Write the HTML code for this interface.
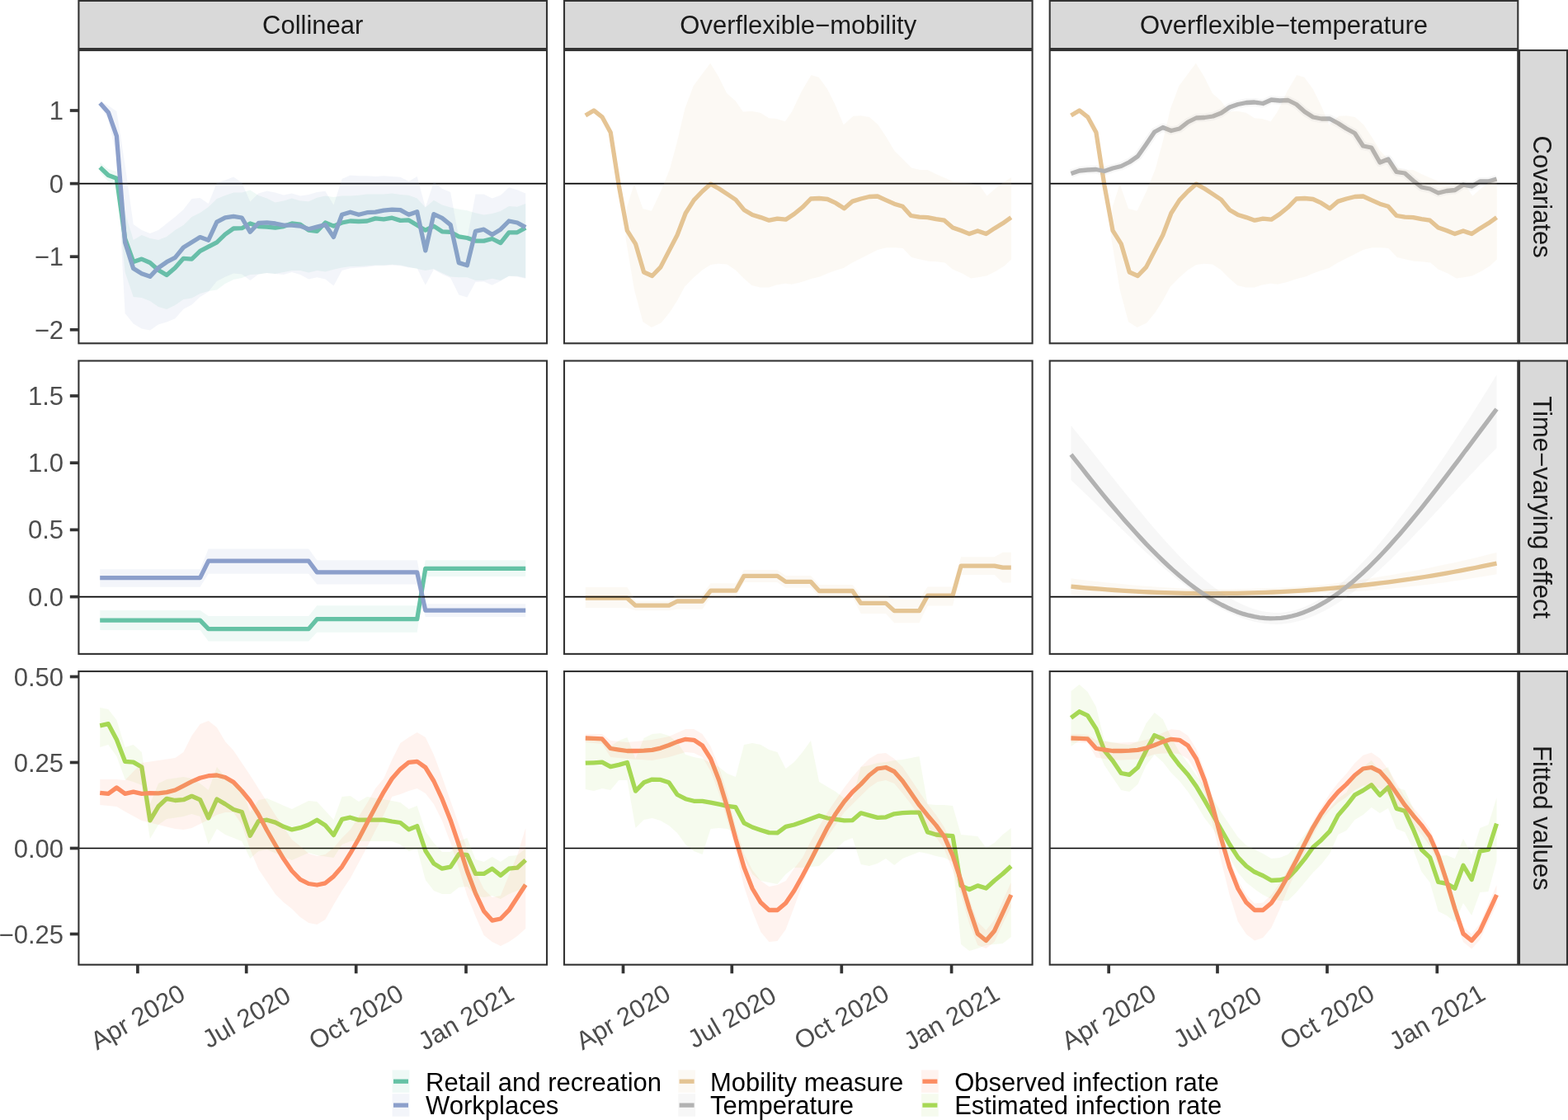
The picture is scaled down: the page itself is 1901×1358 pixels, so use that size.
<!DOCTYPE html><html><head><meta charset="utf-8"><style>html,body{margin:0;padding:0;background:#fff;}svg{display:block;}text{font-family:"Liberation Sans",Arial,sans-serif;}</style></head><body>
<svg width="1901" height="1358" viewBox="0 0 1901 1358">
<rect x="0" y="0" width="1901" height="1358" fill="#ffffff"/>
<defs>
<clipPath id="cp00"><rect x="95.4" y="61" width="567.6" height="355.3"/></clipPath>
<clipPath id="cp01"><rect x="684" y="61" width="567.6" height="355.3"/></clipPath>
<clipPath id="cp02"><rect x="1272.7" y="61" width="567.6" height="355.3"/></clipPath>
<clipPath id="cp10"><rect x="95.4" y="437.5" width="567.6" height="355.4"/></clipPath>
<clipPath id="cp11"><rect x="684" y="437.5" width="567.6" height="355.4"/></clipPath>
<clipPath id="cp12"><rect x="1272.7" y="437.5" width="567.6" height="355.4"/></clipPath>
<clipPath id="cp20"><rect x="95.4" y="814" width="567.6" height="355.7"/></clipPath>
<clipPath id="cp21"><rect x="684" y="814" width="567.6" height="355.7"/></clipPath>
<clipPath id="cp22"><rect x="1272.7" y="814" width="567.6" height="355.7"/></clipPath>
</defs>
<g clip-path="url(#cp00)">
<polyline points="121.2,202.8 131.3,212.5 141.4,216.3 151.6,289.4 161.7,317.5 171.8,314.1 181.9,318.5 192,327.4 202.1,333.6 212.3,324.7 222.4,313.3 232.5,314.1 242.6,304.4 252.7,299.1 262.9,293.8 273,284.1 283.1,277 293.2,276.7 303.3,271 313.4,274.6 323.6,275.1 333.7,276.2 343.8,274.6 353.9,271 364,272.1 374.2,279.2 384.3,280.3 394.4,270 404.5,274.1 414.6,270 424.7,268 434.9,268.5 445,268 455.1,264.9 465.2,265.9 475.3,264.2 485.4,267.4 495.6,266.9 505.7,273.1 515.8,279.2 525.9,274.1 536,280.8 546.2,281.3 556.3,286.9 566.4,288.5 576.5,292.1 586.6,292.1 596.7,289.5 606.9,294.6 617,281.8 627.1,281.8 637.2,276.2" fill="none" stroke="#66C2A5" stroke-width="5.3" stroke-linejoin="round" stroke-linecap="butt"/>
<polyline points="121.2,125 131.3,136.2 141.4,164.8 151.6,294 161.7,325.6 171.8,331.8 181.9,335.3 192,324.7 202.1,317.7 212.3,312.4 222.4,300 232.5,293.8 242.6,287.6 252.7,291.2 262.9,269.1 273,263.8 283.1,262.4 293.2,264 303.3,281.3 313.4,270.5 323.6,269.8 333.7,271 343.8,273.1 353.9,273.1 364,274.1 374.2,277.7 384.3,275.1 394.4,272.6 404.5,287.4 414.6,260.3 424.7,257.2 434.9,260.3 445,257.7 455.1,257.2 465.2,255.1 475.3,254.1 485.4,254.6 495.6,260.3 505.7,256.7 515.8,303.9 525.9,259.7 536,264.4 546.2,272.6 556.3,318.6 566.4,321.7 576.5,280.3 586.6,278.2 596.7,284.4 606.9,278.2 617,268 627.1,270 637.2,275.6" fill="none" stroke="#8DA0CB" stroke-width="5.3" stroke-linejoin="round" stroke-linecap="butt"/>
<line x1="95.4" x2="663" y1="222.6" y2="222.6" stroke="#000" stroke-width="1.6"/>
<polygon points="121.2,197 131.3,205 141.4,208 151.6,258 161.7,291 171.8,285 181.9,289 192,291 202.1,287 212.3,279 222.4,273 232.5,263 242.6,258 252.7,251 262.9,241 273,237 283.1,233.5 293.2,233.5 303.3,230.5 313.4,237 323.6,240.4 333.7,245.4 343.8,243.4 353.9,240.4 364,243.4 374.2,244.2 384.3,239.8 394.4,237.6 404.5,239 414.6,237.6 424.7,237.6 434.9,236.8 445,235.4 455.1,235.4 465.2,235.4 475.3,234.6 485.4,236.1 495.6,236.8 505.7,240.5 515.8,251.6 525.9,242.7 536,248.6 546.2,251.6 556.3,253.8 566.4,255.2 576.5,258.2 586.6,260.4 596.7,258.9 606.9,256 617,250.1 627.1,250.8 637.2,247.1 637.2,337 627.1,334.8 617,334.8 606.9,339.9 596.7,337.7 586.6,339.9 576.5,339.9 566.4,336.3 556.3,336.3 546.2,335.5 536,331.1 525.9,325.9 515.8,328.1 505.7,325.9 495.6,323.7 485.4,321.5 475.3,320.8 465.2,321.5 455.1,321.5 445,322.3 434.9,323 424.7,323 414.6,324.5 404.5,326.7 394.4,329.6 384.3,328.1 374.2,330.4 364,328 353.9,328 343.8,330 333.7,332 323.6,331 313.4,332.6 303.3,333 293.2,337 283.1,339 273,344 262.9,351.6 252.7,353 242.6,356 232.5,361.5 222.4,363 212.3,370 202.1,375 192,372 181.9,365 171.8,361 161.7,360 151.6,330 141.4,226 131.3,220 121.2,209" fill="#66C2A5" fill-opacity="0.1" stroke="none"/>
<polygon points="121.2,122 131.3,128 141.4,135 151.6,200 161.7,272 171.8,279 181.9,283 192,279 202.1,271 212.3,263 222.4,254 232.5,241 242.6,240 252.7,247 262.9,221.5 273,218.5 283.1,214.6 293.2,221.5 303.3,244.4 313.4,234.5 323.6,231.5 333.7,233.5 343.8,236.4 353.9,234.5 364,237.4 374.2,236.1 384.3,233.1 394.4,231.7 404.5,248.6 414.6,216.9 424.7,212.5 434.9,213.3 445,213.3 455.1,214 465.2,213.3 475.3,214 485.4,214.7 495.6,219.9 505.7,214 515.8,251.6 525.9,220.6 536,228.7 546.2,233.1 556.3,288.4 566.4,288.4 576.5,235.4 586.6,235.4 596.7,240.5 606.9,236.8 617,227.2 627.1,230.2 637.2,234.6 637.2,337.7 627.1,335.5 617,334.8 606.9,340.7 596.7,345.8 586.6,341.4 576.5,342.1 566.4,360.6 556.3,357.6 546.2,337 536,332.6 525.9,326.7 515.8,345.8 505.7,325.2 495.6,324.5 485.4,322.3 475.3,321.5 465.2,322.3 455.1,322.3 445,323.7 434.9,324.5 424.7,325.2 414.6,328.1 404.5,346.6 394.4,338.5 384.3,336.3 374.2,338.5 364,333 353.9,330 343.8,333 333.7,332 323.6,331 313.4,332.6 303.3,340 293.2,332.6 283.1,331.6 273,335.8 262.9,341 252.7,353.7 242.6,360 232.5,369.4 222.4,374.7 212.3,386.3 202.1,390.5 192,393.6 181.9,400.5 171.8,398.4 161.7,392.6 151.6,380 141.4,190 131.3,145 121.2,128" fill="#8DA0CB" fill-opacity="0.1" stroke="none"/>
</g>
<g clip-path="url(#cp01)">
<polyline points="709.8,140 719.9,133.9 730,141.8 740.2,160.4 750.3,225 760.4,279.7 770.5,295.6 780.6,330 790.7,334.5 800.9,323.9 811,304.4 821.1,285 831.2,258.5 841.3,242.6 851.5,232 861.6,223.1 871.7,228.7 881.8,235.4 891.9,242.1 902,254.4 912.2,260.5 922.3,263.6 932.4,267.2 942.5,265.1 952.6,266.2 962.8,259.5 972.9,251.3 983,241 993.1,240.5 1003.2,241.5 1013.3,246.2 1023.5,252.8 1033.6,244.1 1043.7,241 1053.8,238.5 1063.9,238 1074,242.6 1084.2,247.2 1094.3,250.3 1104.4,261.5 1114.5,263.1 1124.6,263.6 1134.8,265.6 1144.9,267.2 1155,275.9 1165.1,279.5 1175.2,283.6 1185.3,280 1195.5,283.6 1205.6,276.9 1215.7,270.8 1225.8,263.6" fill="none" stroke="#E5C494" stroke-width="5.3" stroke-linejoin="round" stroke-linecap="butt"/>
<line x1="684" x2="1251.6" y1="222.6" y2="222.6" stroke="#000" stroke-width="1.6"/>
<polygon points="758.5,288.4 759.8,251.8 768.9,223 779.4,253.1 789.9,255.7 801.6,230.9 812.1,204.8 821.2,170.8 830.4,131.6 840.8,104.1 851.3,89.8 861.2,76.7 870.9,92.4 881.3,113.3 891.8,122.4 900.9,135.5 911.4,134.7 921.8,136.8 932.3,143.3 941.4,144.1 951.9,147.3 960,135.5 971.8,110.7 983.5,91.1 992.7,93.7 1003.1,108.1 1012.3,126.4 1022.7,151.2 1034.5,140.7 1043.7,140.2 1054.1,142 1064.6,151.2 1075,166.9 1084.2,182.6 1094.6,193 1105.1,203.5 1115.6,206.1 1124.7,206.1 1135.2,211.3 1145.6,215.8 1156.1,220.5 1166.5,221.8 1177,222.6 1187.5,224.4 1196.6,237.5 1207.1,228.3 1217.5,220.5 1226.1,215.2 1226.1,314.6 1217.5,322.4 1207.1,328.9 1196.6,334.2 1187.5,336 1177,337.6 1166.5,331.6 1154.8,326.4 1145.6,318.5 1135.2,317.2 1126,316.7 1115.6,314.6 1105.1,312 1094.6,301 1085.5,300.2 1075,300.2 1064.6,302.8 1054.1,308.1 1043.7,313.3 1033.2,318.5 1022.7,325 1013.6,327.7 1003.1,331.6 994,335.5 983.5,338.1 971.8,342 960,344.7 951.9,343.8 941.4,345.4 932.3,348.5 921.8,348.5 911.4,345.9 900.9,336.7 891.8,327.6 881.3,320.5 870.9,319.8 861.7,321.1 851.3,327.6 840.8,336.7 830.4,347.2 821.2,364.2 812.1,378.6 801.6,391.6 789.9,396.9 779.4,390.3 768.9,351.1 758.5,288.4" fill="#E5C494" fill-opacity="0.1" stroke="none"/>
</g>
<g clip-path="url(#cp02)">
<polyline points="1298.5,140 1308.6,133.9 1318.7,141.8 1328.9,160.4 1339,225 1349.1,279.7 1359.2,295.6 1369.3,330 1379.4,334.5 1389.6,323.9 1399.7,304.4 1409.8,285 1419.9,258.5 1430,242.6 1440.2,232 1450.3,223.1 1460.4,228.7 1470.5,235.4 1480.6,242.1 1490.7,254.4 1500.9,260.5 1511,263.6 1521.1,267.2 1531.2,265.1 1541.3,266.2 1551.5,259.5 1561.6,251.3 1571.7,241 1581.8,240.5 1591.9,241.5 1602,246.2 1612.2,252.8 1622.3,244.1 1632.4,241 1642.5,238.5 1652.6,238 1662.7,242.6 1672.9,247.2 1683,250.3 1693.1,261.5 1703.2,263.1 1713.3,263.6 1723.5,265.6 1733.6,267.2 1743.7,275.9 1753.8,279.5 1763.9,283.6 1774,280 1784.2,283.6 1794.3,276.9 1804.4,270.8 1814.5,263.6" fill="none" stroke="#E5C494" stroke-width="5.3" stroke-linejoin="round" stroke-linecap="butt"/>
<polyline points="1298.5,210.5 1308.6,207 1318.7,206 1328.9,205.5 1339,207.5 1349.1,204 1359.2,201.5 1369.3,196.5 1379.4,189.5 1389.6,175 1399.7,160 1409.8,154.5 1419.9,158.5 1430,156 1440.2,148 1450.3,143 1460.4,142.5 1470.5,141 1480.6,137 1490.7,130 1500.9,126.5 1511,124.5 1521.1,124 1531.2,125.5 1541.3,121 1551.5,122 1561.6,121.5 1571.7,126.5 1581.8,135.5 1591.9,142 1602,144 1612.2,144 1622.3,149.5 1632.4,156 1642.5,161.5 1652.6,177 1662.7,179 1672.9,197 1683,193 1693.1,208.5 1703.2,210 1713.3,219 1723.5,227 1733.6,229 1743.7,234 1753.8,231.5 1763.9,230.5 1774,224 1784.2,226 1794.3,220 1804.4,220 1814.5,217" fill="none" stroke="#B3B3B3" stroke-width="5.3" stroke-linejoin="round" stroke-linecap="butt"/>
<line x1="1272.7" x2="1840.3" y1="222.6" y2="222.6" stroke="#000" stroke-width="1.6"/>
<polygon points="1347.2,288.4 1348.5,251.8 1357.6,223 1368.1,253.1 1378.6,255.7 1390.3,230.9 1400.8,204.8 1409.9,170.8 1419.1,131.6 1429.5,104.1 1440,89.8 1449.9,76.7 1459.6,92.4 1470,113.3 1480.5,122.4 1489.6,135.5 1500.1,134.7 1510.5,136.8 1521,143.3 1530.1,144.1 1540.6,147.3 1548.7,135.5 1560.5,110.7 1572.2,91.1 1581.4,93.7 1591.8,108.1 1601,126.4 1611.4,151.2 1623.2,140.7 1632.4,140.2 1642.8,142 1653.3,151.2 1663.7,166.9 1672.9,182.6 1683.3,193 1693.8,203.5 1704.3,206.1 1713.4,206.1 1723.9,211.3 1734.3,215.8 1744.8,220.5 1755.2,221.8 1765.7,222.6 1776.2,224.4 1785.3,237.5 1795.8,228.3 1806.2,220.5 1814.8,215.2 1814.8,314.6 1806.2,322.4 1795.8,328.9 1785.3,334.2 1776.2,336 1765.7,337.6 1755.2,331.6 1743.5,326.4 1734.3,318.5 1723.9,317.2 1714.7,316.7 1704.3,314.6 1693.8,312 1683.3,301 1674.2,300.2 1663.7,300.2 1653.3,302.8 1642.8,308.1 1632.4,313.3 1621.9,318.5 1611.4,325 1602.3,327.7 1591.8,331.6 1582.7,335.5 1572.2,338.1 1560.5,342 1548.7,344.7 1540.6,343.8 1530.1,345.4 1521,348.5 1510.5,348.5 1500.1,345.9 1489.6,336.7 1480.5,327.6 1470,320.5 1459.6,319.8 1450.4,321.1 1440,327.6 1429.5,336.7 1419.1,347.2 1409.9,364.2 1400.8,378.6 1390.3,391.6 1378.6,396.9 1368.1,390.3 1357.6,351.1 1347.2,288.4" fill="#E5C494" fill-opacity="0.1" stroke="none"/>
<polyline points="1298.5,210.5 1308.6,207 1318.7,206 1328.9,205.5 1339,207.5 1349.1,204 1359.2,201.5 1369.3,196.5 1379.4,189.5 1389.6,175 1399.7,160 1409.8,154.5 1419.9,158.5 1430,156 1440.2,148 1450.3,143 1460.4,142.5 1470.5,141 1480.6,137 1490.7,130 1500.9,126.5 1511,124.5 1521.1,124 1531.2,125.5 1541.3,121 1551.5,122 1561.6,121.5 1571.7,126.5 1581.8,135.5 1591.9,142 1602,144 1612.2,144 1622.3,149.5 1632.4,156 1642.5,161.5 1652.6,177 1662.7,179 1672.9,197 1683,193 1693.1,208.5 1703.2,210 1713.3,219 1723.5,227 1733.6,229 1743.7,234 1753.8,231.5 1763.9,230.5 1774,224 1784.2,226 1794.3,220 1804.4,220 1814.5,217" fill="none" stroke="#B3B3B3" stroke-opacity="0.1" stroke-width="10" stroke-linejoin="round" stroke-linecap="butt"/>
</g>
<g clip-path="url(#cp10)">
<polyline points="121.2,752.1 131.3,752.1 141.4,752.1 151.6,752.1 161.7,752.1 171.8,752.1 181.9,752.1 192,752.1 202.1,752.1 212.3,752.1 222.4,752.1 232.5,752.1 242.6,752.1 252.7,762.6 262.9,762.6 273,762.6 283.1,762.6 293.2,762.6 303.3,762.6 313.4,762.6 323.6,762.6 333.7,762.6 343.8,762.6 353.9,762.6 364,762.6 374.2,762.6 384.3,750.7 394.4,750.7 404.5,750.7 414.6,750.7 424.7,750.7 434.9,750.7 445,750.7 455.1,750.7 465.2,750.7 475.3,750.7 485.4,750.7 495.6,750.7 505.7,750.7 515.8,689.3 525.9,689.3 536,689.3 546.2,689.3 556.3,689.3 566.4,689.3 576.5,689.3 586.6,689.3 596.7,689.3 606.9,689.3 617,689.3 627.1,689.3 637.2,689.3" fill="none" stroke="#66C2A5" stroke-width="5.3" stroke-linejoin="round" stroke-linecap="butt"/>
<polyline points="121.2,700.7 131.3,700.7 141.4,700.7 151.6,700.7 161.7,700.7 171.8,700.7 181.9,700.7 192,700.7 202.1,700.7 212.3,700.7 222.4,700.7 232.5,700.7 242.6,700.7 252.7,680.2 262.9,680.2 273,680.2 283.1,680.2 293.2,680.2 303.3,680.2 313.4,680.2 323.6,680.2 333.7,680.2 343.8,680.2 353.9,680.2 364,680.2 374.2,680.2 384.3,693.9 394.4,693.9 404.5,693.9 414.6,693.9 424.7,693.9 434.9,693.9 445,693.9 455.1,693.9 465.2,693.9 475.3,693.9 485.4,693.9 495.6,693.9 505.7,693.9 515.8,740.2 525.9,740.2 536,740.2 546.2,740.2 556.3,740.2 566.4,740.2 576.5,740.2 586.6,740.2 596.7,740.2 606.9,740.2 617,740.2 627.1,740.2 637.2,740.2" fill="none" stroke="#8DA0CB" stroke-width="5.3" stroke-linejoin="round" stroke-linecap="butt"/>
<line x1="95.4" x2="663" y1="723.6" y2="723.6" stroke="#000" stroke-width="1.6"/>
<polygon points="121.2,740.1 131.3,740.1 141.4,740.1 151.6,740.1 161.7,740.1 171.8,740.1 181.9,740.1 192,740.1 202.1,740.1 212.3,740.1 222.4,740.1 232.5,740.1 242.6,740.1 252.7,746.9 262.9,746.9 273,746.9 283.1,746.9 293.2,746.9 303.3,746.9 313.4,746.9 323.6,746.9 333.7,746.9 343.8,746.9 353.9,746.9 364,746.9 374.2,746.9 384.3,734.3 394.4,734.3 404.5,734.3 414.6,734.3 424.7,734.3 434.9,734.3 445,734.3 455.1,734.3 465.2,734.3 475.3,734.3 485.4,734.3 495.6,734.3 505.7,734.3 515.8,679.3 525.9,679.3 536,679.3 546.2,679.3 556.3,679.3 566.4,679.3 576.5,679.3 586.6,679.3 596.7,679.3 606.9,679.3 617,679.3 627.1,679.3 637.2,679.3 637.2,699 627.1,699 617,699 606.9,699 596.7,699 586.6,699 576.5,699 566.4,699 556.3,699 546.2,699 536,699 525.9,699 515.8,699 505.7,766.7 495.6,766.7 485.4,766.7 475.3,766.7 465.2,766.7 455.1,766.7 445,766.7 434.9,766.7 424.7,766.7 414.6,766.7 404.5,766.7 394.4,766.7 384.3,766.7 374.2,777.6 364,777.6 353.9,777.6 343.8,777.6 333.7,777.6 323.6,777.6 313.4,777.6 303.3,777.6 293.2,777.6 283.1,777.6 273,777.6 262.9,777.6 252.7,777.6 242.6,764.1 232.5,764.1 222.4,764.1 212.3,764.1 202.1,764.1 192,764.1 181.9,764.1 171.8,764.1 161.7,764.1 151.6,764.1 141.4,764.1 131.3,764.1 121.2,764.1" fill="#66C2A5" fill-opacity="0.1" stroke="none"/>
<polygon points="121.2,690.2 131.3,690.2 141.4,690.2 151.6,690.2 161.7,690.2 171.8,690.2 181.9,690.2 192,690.2 202.1,690.2 212.3,690.2 222.4,690.2 232.5,690.2 242.6,690.2 252.7,665.5 262.9,665.5 273,665.5 283.1,665.5 293.2,665.5 303.3,665.5 313.4,665.5 323.6,665.5 333.7,665.5 343.8,665.5 353.9,665.5 364,665.5 374.2,665.5 384.3,679.3 394.4,679.3 404.5,679.3 414.6,679.3 424.7,679.3 434.9,679.3 445,679.3 455.1,679.3 465.2,679.3 475.3,679.3 485.4,679.3 495.6,679.3 505.7,679.3 515.8,732.2 525.9,732.2 536,732.2 546.2,732.2 556.3,732.2 566.4,732.2 576.5,732.2 586.6,732.2 596.7,732.2 606.9,732.2 617,732.2 627.1,732.2 637.2,732.2 637.2,747.9 627.1,747.9 617,747.9 606.9,747.9 596.7,747.9 586.6,747.9 576.5,747.9 566.4,747.9 556.3,747.9 546.2,747.9 536,747.9 525.9,747.9 515.8,747.9 505.7,708.6 495.6,708.6 485.4,708.6 475.3,708.6 465.2,708.6 455.1,708.6 445,708.6 434.9,708.6 424.7,708.6 414.6,708.6 404.5,708.6 394.4,708.6 384.3,708.6 374.2,695.8 364,695.8 353.9,695.8 343.8,695.8 333.7,695.8 323.6,695.8 313.4,695.8 303.3,695.8 293.2,695.8 283.1,695.8 273,695.8 262.9,695.8 252.7,695.8 242.6,711.7 232.5,711.7 222.4,711.7 212.3,711.7 202.1,711.7 192,711.7 181.9,711.7 171.8,711.7 161.7,711.7 151.6,711.7 141.4,711.7 131.3,711.7 121.2,711.7" fill="#8DA0CB" fill-opacity="0.1" stroke="none"/>
</g>
<g clip-path="url(#cp11)">
<polyline points="709.8,725.2 719.9,725.2 730,725.2 740.2,725.2 750.3,725.2 760.4,725.2 770.5,734.2 780.6,734.2 790.7,734.2 800.9,734.2 811,734.2 821.1,729 831.2,729 841.3,729 851.5,729 861.6,716.2 871.7,716.2 881.8,716.2 891.9,716.2 902,698.4 912.2,698.4 922.3,698.4 932.4,698.4 942.5,698.4 952.6,705.4 962.8,705.4 972.9,705.4 983,705.4 993.1,716.5 1003.2,716.5 1013.3,716.5 1023.5,716.5 1033.6,716.5 1043.7,731.4 1053.8,731.4 1063.9,731.4 1074,731.4 1084.2,740.6 1094.3,740.6 1104.4,740.6 1114.5,740.6 1124.6,722.2 1134.8,722.2 1144.9,722.2 1155,722.2 1165.1,686.1 1175.2,686.1 1185.3,686.1 1195.5,686.1 1205.6,686.1 1215.7,688.1 1225.8,688.1" fill="none" stroke="#E5C494" stroke-width="5.3" stroke-linejoin="round" stroke-linecap="butt"/>
<line x1="684" x2="1251.6" y1="723.6" y2="723.6" stroke="#000" stroke-width="1.6"/>
<polygon points="709.8,712 719.9,712 730,712 740.2,712 750.3,712 760.4,712 770.5,728.2 780.6,728.2 790.7,728.2 800.9,728.2 811,728.2 821.1,720.7 831.2,720.7 841.3,720.7 851.5,720.7 861.6,707.2 871.7,707.2 881.8,707.2 891.9,707.2 902,690.9 912.2,690.9 922.3,690.9 932.4,690.9 942.5,690.9 952.6,697.9 962.8,697.9 972.9,697.9 983,697.9 993.1,709.1 1003.2,709.1 1013.3,709.1 1023.5,709.1 1033.6,709.1 1043.7,721.4 1053.8,721.4 1063.9,721.4 1074,721.4 1084.2,726.8 1094.3,726.8 1104.4,726.8 1114.5,726.8 1124.6,711.4 1134.8,711.4 1144.9,711.4 1155,711.4 1165.1,675.3 1175.2,675.3 1185.3,675.3 1195.5,675.3 1205.6,675.3 1215.7,669.7 1225.8,669.7 1225.8,706.5 1215.7,706.5 1205.6,696.9 1195.5,696.9 1185.3,696.9 1175.2,696.9 1165.1,696.9 1155,734.5 1144.9,734.5 1134.8,734.5 1124.6,734.5 1114.5,755.2 1104.4,755.2 1094.3,755.2 1084.2,755.2 1074,744 1063.9,744 1053.8,744 1043.7,744 1033.6,723.7 1023.5,723.7 1013.3,723.7 1003.2,723.7 993.1,723.7 983,712.7 972.9,712.7 962.8,712.7 952.6,712.7 942.5,706 932.4,706 922.3,706 912.2,706 902,706 891.9,723.7 881.8,723.7 871.7,723.7 861.6,723.7 851.5,738.8 841.3,738.8 831.2,738.8 821.1,738.8 811,740.3 800.9,740.3 790.7,740.3 780.6,740.3 770.5,740.3 760.4,737 750.3,737 740.2,737 730,737 719.9,737 709.8,737" fill="#E5C494" fill-opacity="0.1" stroke="none"/>
</g>
<g clip-path="url(#cp12)">
<polyline points="1298.5,711.2 1307.2,712 1316,712.8 1324.7,713.5 1333.5,714.2 1342.2,714.9 1351,715.5 1359.7,716.1 1368.5,716.6 1377.2,717.1 1386,717.6 1394.7,718 1403.5,718.3 1412.2,718.6 1420.9,718.9 1429.7,719.1 1438.4,719.3 1447.2,719.4 1455.9,719.5 1464.7,719.6 1473.4,719.6 1482.2,719.5 1490.9,719.4 1499.7,719.3 1508.4,719.1 1517.2,718.9 1525.9,718.6 1534.6,718.3 1543.4,718 1552.1,717.6 1560.9,717.1 1569.6,716.6 1578.4,716.1 1587.1,715.5 1595.9,714.8 1604.6,714.1 1613.4,713.4 1622.1,712.6 1630.9,711.8 1639.6,710.9 1648.3,710 1657.1,709 1665.8,708 1674.6,706.9 1683.3,705.8 1692.1,704.6 1700.8,703.4 1709.6,702.2 1718.3,700.8 1727.1,699.5 1735.8,698.1 1744.5,696.6 1753.3,695.1 1762,693.5 1770.8,691.9 1779.5,690.2 1788.3,688.5 1797,686.7 1805.8,684.9 1814.5,683.1" fill="none" stroke="#E5C494" stroke-width="5.3" stroke-linejoin="round" stroke-linecap="butt"/>
<polyline points="1298.5,551.1 1305,559.4 1311.6,567.7 1318.1,576 1324.6,584.2 1331.2,592.3 1337.7,600.3 1344.2,608.2 1350.8,616 1357.3,623.6 1363.8,631.2 1370.4,638.6 1376.9,645.8 1383.4,652.9 1389.9,659.9 1396.5,666.6 1403,673.2 1409.5,679.5 1416.1,685.7 1422.6,691.6 1429.1,697.3 1435.7,702.8 1442.2,708 1448.7,712.9 1455.3,717.6 1461.8,722.1 1468.3,726.2 1474.9,730 1481.4,733.5 1487.9,736.7 1494.5,739.6 1501,742.2 1507.5,744.4 1514.1,746.2 1520.6,747.7 1527.1,748.8 1533.6,749.5 1540.2,749.8 1546.7,749.7 1553.2,749.3 1559.8,748.3 1566.3,747 1572.8,745.2 1579.4,743 1585.9,740.4 1592.4,737.5 1599,734.1 1605.5,730.4 1612,726.4 1618.6,722 1625.1,717.3 1631.6,712.3 1638.2,706.9 1644.7,701.3 1651.2,695.5 1657.8,689.3 1664.3,682.9 1670.8,676.3 1677.3,669.5 1683.9,662.4 1690.4,655.1 1696.9,647.7 1703.5,640.1 1710,632.3 1716.5,624.4 1723.1,616.3 1729.6,608.1 1736.1,599.8 1742.7,591.4 1749.2,582.9 1755.7,574.4 1762.3,565.7 1768.8,557.1 1775.3,548.3 1781.9,539.6 1788.4,530.9 1794.9,522.1 1801.5,513.4 1808,504.7 1814.5,496" fill="none" stroke="#B3B3B3" stroke-width="5.3" stroke-linejoin="round" stroke-linecap="butt"/>
<line x1="1272.7" x2="1840.3" y1="723.6" y2="723.6" stroke="#000" stroke-width="1.6"/>
<polygon points="1298.5,701.3 1307.2,702.4 1316,703.5 1324.7,704.5 1333.5,705.5 1342.2,706.4 1351,707.3 1359.7,708.1 1368.5,708.9 1377.2,709.7 1386,710.4 1394.7,711.1 1403.5,711.7 1412.2,712.3 1420.9,712.8 1429.7,713.3 1438.4,713.8 1447.2,714.2 1455.9,714.5 1464.7,714.6 1473.4,714.6 1482.2,714.5 1490.9,714.4 1499.7,714.3 1508.4,714.1 1517.2,713.9 1525.9,713.6 1534.6,713.3 1543.4,713 1552.1,712.6 1560.9,712.1 1569.6,711.6 1578.4,711.1 1587.1,710.5 1595.9,709.8 1604.6,709 1613.4,707.9 1622.1,706.8 1630.9,705.6 1639.6,704.4 1648.3,703.2 1657.1,701.9 1665.8,700.5 1674.6,699.1 1683.3,697.7 1692.1,696.2 1700.8,694.6 1709.6,693 1718.3,691.4 1727.1,689.7 1735.8,687.9 1744.5,686.1 1753.3,684.3 1762,682.4 1770.8,680.4 1779.5,678.4 1788.3,676.4 1797,674.3 1805.8,672.1 1814.5,670 1814.5,696.2 1805.8,697.7 1797,699.2 1788.3,700.6 1779.5,702 1770.8,703.4 1762,704.6 1753.3,705.9 1744.5,707.1 1735.8,708.2 1727.1,709.3 1718.3,710.3 1709.6,711.3 1700.8,712.2 1692.1,713.1 1683.3,714 1674.6,714.7 1665.8,715.5 1657.1,716.2 1648.3,716.8 1639.6,717.4 1630.9,718 1622.1,718.5 1613.4,718.9 1604.6,719.3 1595.9,719.8 1587.1,720.5 1578.4,721.1 1569.6,721.6 1560.9,722.1 1552.1,722.6 1543.4,723 1534.6,723.3 1525.9,723.6 1517.2,723.9 1508.4,724.1 1499.7,724.3 1490.9,724.4 1482.2,724.5 1473.4,724.6 1464.7,724.6 1455.9,724.5 1447.2,724.7 1438.4,724.8 1429.7,724.9 1420.9,724.9 1412.2,724.9 1403.5,724.9 1394.7,724.8 1386,724.6 1377.2,724.4 1368.5,724.2 1359.7,723.9 1351,723.6 1342.2,723.3 1333.5,722.9 1324.7,722.4 1316,722 1307.2,721.4 1298.5,720.9" fill="#E5C494" fill-opacity="0.1" stroke="none"/>
<polygon points="1298.5,516 1305,524 1311.6,532 1318.1,540.1 1324.6,548.3 1331.2,556.5 1337.7,564.7 1344.2,572.9 1350.8,581.2 1357.3,589.4 1363.8,597.5 1370.4,605.6 1376.9,613.7 1383.4,621.6 1389.9,629.5 1396.5,637.2 1403,644.8 1409.5,652.2 1416.1,659.4 1422.6,666.5 1429.1,673.4 1435.7,680 1442.2,686.4 1448.7,692.5 1455.3,698.4 1461.8,704 1468.3,709.3 1474.9,714.2 1481.4,718.9 1487.9,723.1 1494.5,727 1501,730.5 1507.5,733.6 1514.1,736.3 1520.6,738.6 1527.1,740.4 1533.6,741.7 1540.2,742.6 1546.7,742.9 1553.2,742.8 1559.8,742.1 1566.3,740.8 1572.8,739.1 1579.4,736.8 1585.9,734 1592.4,730.7 1599,727 1605.5,722.8 1612,718.2 1618.6,713.2 1625.1,707.8 1631.6,702.1 1638.2,696 1644.7,689.5 1651.2,682.8 1657.8,675.7 1664.3,668.4 1670.8,660.9 1677.3,653 1683.9,645 1690.4,636.8 1696.9,628.3 1703.5,619.7 1710,611 1716.5,602.1 1723.1,593.1 1729.6,584 1736.1,574.7 1742.7,565.4 1749.2,555.9 1755.7,546.2 1762.3,536.5 1768.8,526.6 1775.3,516.6 1781.9,506.5 1788.4,496.3 1794.9,485.9 1801.5,475.5 1808,464.9 1814.5,454.2 1814.5,543.3 1808,549.8 1801.5,556.4 1794.9,563.1 1788.4,569.9 1781.9,576.8 1775.3,583.8 1768.8,590.8 1762.3,597.9 1755.7,604.9 1749.2,612 1742.7,619.1 1736.1,626.2 1729.6,633.2 1723.1,640.2 1716.5,647.1 1710,653.9 1703.5,660.7 1696.9,667.3 1690.4,673.8 1683.9,680.2 1677.3,686.4 1670.8,692.5 1664.3,698.3 1657.8,704 1651.2,709.5 1644.7,714.8 1638.2,719.8 1631.6,724.5 1625.1,729 1618.6,733.3 1612,737.2 1605.5,740.8 1599,744.1 1592.4,747 1585.9,749.6 1579.4,751.8 1572.8,753.6 1566.3,755.1 1559.8,756.1 1553.2,756.7 1546.7,756.9 1540.2,756.7 1533.6,756 1527.1,755.1 1520.6,753.7 1514.1,752 1507.5,750 1501,747.6 1494.5,745 1487.9,742 1481.4,738.7 1474.9,735.2 1468.3,731.4 1461.8,727.3 1455.3,723.1 1448.7,718.5 1442.2,713.8 1435.7,708.9 1429.1,703.8 1422.6,698.5 1416.1,693.1 1409.5,687.5 1403,681.8 1396.5,675.9 1389.9,670 1383.4,663.9 1376.9,657.8 1370.4,651.5 1363.8,645.3 1357.3,638.9 1350.8,632.6 1344.2,626.2 1337.7,619.8 1331.2,613.4 1324.6,607.1 1318.1,600.7 1311.6,594.4 1305,588.2 1298.5,582" fill="#B3B3B3" fill-opacity="0.1" stroke="none"/>
</g>
<g clip-path="url(#cp20)">
<polyline points="121.2,879.9 131.3,877.7 141.4,896.8 151.6,923.3 161.7,924.1 171.8,930 181.9,994.8 192,977.8 202.1,968.3 212.3,970.5 222.4,969.7 232.5,965.3 242.6,969.7 252.7,991.8 262.9,969 273,974.9 283.1,981.5 293.2,984.5 303.3,1013.3 313.4,995.6 323.6,994.2 333.7,997.1 343.8,1002.3 353.9,1005.9 364,1003.7 374.2,1000 384.3,994.2 394.4,1000.8 404.5,1012.6 414.6,993.4 424.7,991.2 434.9,994.2 445,994.2 455.1,994.2 465.2,994.2 475.3,996 485.4,997.5 495.6,1005.8 505.7,1001.6 515.8,1031.5 525.9,1047 536,1053.2 546.2,1051.1 556.3,1035.7 566.4,1036.7 576.5,1059.4 586.6,1059.4 596.7,1053.2 606.9,1061.4 617,1053.2 627.1,1052.2 637.2,1042.9" fill="none" stroke="#A6D854" stroke-width="5.3" stroke-linejoin="round" stroke-linecap="butt"/>
<polyline points="121.2,961.3 131.3,962.4 141.4,955 151.6,962.4 161.7,960.2 171.8,962.4 181.9,961.6 192,961.9 202.1,960.6 212.3,958 222.4,952.8 232.5,947.6 242.6,943.2 252.7,940.7 262.9,940 273,942.5 283.1,948.4 293.2,959 303.3,971.3 313.4,987.5 323.6,1006.7 333.7,1024.3 343.8,1041.3 353.9,1056 364,1066.3 374.2,1071.5 384.3,1073 394.4,1070.8 404.5,1062.6 414.6,1050.9 424.7,1034.7 434.9,1017 445,997.8 455.1,978.7 465.2,960.3 475.3,944 485.4,932.6 495.6,924.3 505.7,923.3 515.8,930.5 525.9,947 536,968.7 546.2,994.4 556.3,1024.3 566.4,1056.3 576.5,1083.1 586.6,1104.7 596.7,1116.1 606.9,1114 617,1103.7 627.1,1088.2 637.2,1072.8" fill="none" stroke="#FC8D62" stroke-width="5.3" stroke-linejoin="round" stroke-linecap="butt"/>
<line x1="95.4" x2="663" y1="1028.5" y2="1028.5" stroke="#000" stroke-width="1.6"/>
<polygon points="121.2,858 131.3,860 141.4,873 151.6,906 161.7,903 171.8,912 181.9,975 192,950 202.1,945 212.3,943.5 222.4,942 232.5,944 242.6,950 252.7,958 262.9,930 273,942 283.1,950 293.2,955 303.3,985 313.4,970 323.6,968 333.7,972.3 343.8,976.7 353.9,981 364,976 374.2,971 384.3,972 394.4,983 404.5,994 414.6,966 424.7,965 434.9,972 445,966 455.1,967.7 465.2,969.3 475.3,971 485.4,973 495.6,981 505.7,977 515.8,1008 525.9,1022 536,1033 546.2,1033 556.3,1020 566.4,1016 576.5,1042 586.6,1045 596.7,1039 606.9,1045 617,1038 627.1,1037 637.2,1029 637.2,1076 627.1,1080 617,1084 606.9,1090 596.7,1086 586.6,1088 576.5,1086 566.4,1075 556.3,1076 546.2,1084 536,1084 525.9,1080 515.8,1067 505.7,1029 495.6,1032 485.4,1024 475.3,1020 465.2,1020 455.1,1020 445,1020 434.9,1020 424.7,1020 414.6,1024 404.5,1040 394.4,1038.5 384.3,1037 374.2,1034 364,1038.5 353.9,1043 343.8,1038.7 333.7,1034.3 323.6,1030 313.4,1032 303.3,1041 293.2,1020 283.1,1016 273,1012 262.9,1005 252.7,1024 242.6,990 232.5,987 222.4,990 212.3,991.5 202.1,993 192,1000 181.9,1017 171.8,952 161.7,948 151.6,945 141.4,917 131.3,903 121.2,906" fill="#A6D854" fill-opacity="0.1" stroke="none"/>
<polygon points="121.2,945 131.3,945 141.4,945 151.6,946 161.7,935.5 171.8,925 181.9,923.5 192,922 202.1,920.5 212.3,919 222.4,912 232.5,892 242.6,878 252.7,874 262.9,882 273,899 283.1,910 293.2,925 303.3,940 313.4,956 323.6,972 333.7,988 343.8,1003 353.9,1018 364,1026 374.2,1035 384.3,1038 394.4,1036 404.5,1028 414.6,1016 424.7,1006 434.9,990 445,974 455.1,956 465.2,944 475.3,921 485.4,901 495.6,894 505.7,888 515.8,894 525.9,915 536,942 546.2,971 556.3,1000 566.4,1030 576.5,1057 586.6,1078 596.7,1088 606.9,1086 617,1061 627.1,1037 637.2,1004 637.2,1126 627.1,1135 617,1142 606.9,1147 596.7,1142 586.6,1134 576.5,1111 566.4,1086 556.3,1053 546.2,1022 536,995 525.9,975 515.8,962 505.7,956 495.6,959 485.4,963 475.3,966 465.2,988 455.1,1007 445,1027 434.9,1046 424.7,1065 414.6,1080 404.5,1097 394.4,1115 384.3,1121 374.2,1119 364,1112 353.9,1102 343.8,1094 333.7,1084 323.6,1069 313.4,1054 303.3,1030 293.2,1000 283.1,985 273,985 262.9,988 252.7,994 242.6,999 232.5,1004 222.4,1006 212.3,1005 202.1,1002.5 192,1000 181.9,997.5 171.8,995 161.7,989.5 151.6,984 141.4,978 131.3,977 121.2,976" fill="#FC8D62" fill-opacity="0.1" stroke="none"/>
</g>
<g clip-path="url(#cp21)">
<polyline points="709.8,925.2 719.9,924.8 730,924.2 740.2,929.7 750.3,927.4 760.4,924.5 770.5,959.1 780.6,948.8 790.7,945.1 800.9,945.4 811,948.8 821.1,963.5 831.2,968.7 841.3,971.3 851.5,971.3 861.6,973.1 871.7,975.2 881.8,977.4 891.9,978.7 902,997.8 912.2,1003 922.3,1006.4 932.4,1009.6 942.5,1009.9 952.6,1002.3 962.8,1000 972.9,996.4 983,992.7 993.1,989 1003.2,992 1013.3,993.4 1023.5,994.9 1033.6,994.6 1043.7,985.8 1053.8,988.6 1063.9,991.4 1074,990.8 1084.2,986.8 1094.3,985.6 1104.4,985.2 1114.5,985.2 1124.6,1008.9 1134.8,1012 1144.9,1013 1155,1013.7 1165.1,1073.9 1175.2,1078.5 1185.3,1073.9 1195.5,1077 1205.6,1067.7 1215.7,1059.5 1225.8,1050.2" fill="none" stroke="#A6D854" stroke-width="5.3" stroke-linejoin="round" stroke-linecap="butt"/>
<polyline points="709.8,895 719.9,895.3 730,895.9 740.2,907.5 750.3,909.1 760.4,910.5 770.5,910.5 780.6,910.1 790.7,909.4 800.9,907.1 811,903.5 821.1,899.4 831.2,896.3 841.3,897.3 851.5,904 861.6,920 871.7,946 881.8,979 891.9,1017 902,1051.5 912.2,1077.5 922.3,1094.3 932.4,1103.5 942.5,1103.5 952.6,1095 962.8,1080 972.9,1062 983,1043 993.1,1023 1003.2,1003.3 1013.3,986.4 1023.5,971.9 1033.6,960.2 1043.7,950.9 1053.8,940 1063.9,932 1074,930.5 1084.2,935.5 1094.3,947 1104.4,961.4 1114.5,976.2 1124.6,988.7 1134.8,1000.6 1144.9,1014.5 1155,1037.5 1165.1,1068.2 1175.2,1102 1185.3,1132.1 1195.5,1140.5 1205.6,1128.7 1215.7,1106.8 1225.8,1085" fill="none" stroke="#FC8D62" stroke-width="5.3" stroke-linejoin="round" stroke-linecap="butt"/>
<line x1="684" x2="1251.6" y1="1028.5" y2="1028.5" stroke="#000" stroke-width="1.6"/>
<polygon points="709.8,893 719.9,893 730,895 740.2,905 750.3,898 760.4,894 770.5,920 780.6,895 790.7,890 800.9,889 811,892 821.1,900 831.2,915 841.3,918 851.5,920 861.6,925 871.7,930 881.8,938 891.9,942 902,903 912.2,901 922.3,903 932.4,909 942.5,912 952.6,932 962.8,924 972.9,912 983,898 993.1,948 1003.2,954 1013.3,960 1023.5,968 1033.6,968 1043.7,930 1053.8,928 1063.9,925 1074,924 1084.2,922 1094.3,921 1104.4,919 1114.5,917 1124.6,975 1134.8,976 1144.9,976 1155,977 1165.1,1012 1175.2,1013 1185.3,1014 1195.5,1028 1205.6,1022 1215.7,1012 1225.8,1004 1225.8,1136 1215.7,1144 1205.6,1145 1195.5,1146 1185.3,1150 1175.2,1153 1165.1,1145 1155,1045 1144.9,1040 1134.8,1038 1124.6,1035 1114.5,1033 1104.4,1037 1094.3,1041 1084.2,1049 1074,1041 1063.9,1047 1053.8,1050 1043.7,1048 1033.6,1016 1023.5,1020 1013.3,1030 1003.2,1040 993.1,1050 983,1051 972.9,1052 962.8,1052 952.6,1060 942.5,1072 932.4,1070 922.3,1068 912.2,1060 902,1040 891.9,1010 881.8,1005 871.7,1004 861.6,1005 851.5,1036 841.3,1032 831.2,1024 821.1,1010 811,1001 800.9,995 790.7,992 780.6,994 770.5,1004 760.4,946 750.3,946 740.2,958 730,956 719.9,959 709.8,957" fill="#A6D854" fill-opacity="0.1" stroke="none"/>
<polygon points="709.8,890 719.9,890 730,890 740.2,898 750.3,899 760.4,900 770.5,899 780.6,898 790.7,897 800.9,895 811,893 821.1,888.5 831.2,884 841.3,884 851.5,890 861.6,905 871.7,930 881.8,962 891.9,1002 902,1035 912.2,1055 922.3,1068 932.4,1075 942.5,1073 952.6,1068 962.8,1053 972.9,1040 983,1020 993.1,1002 1003.2,985 1013.3,970 1023.5,955 1033.6,942 1043.7,930 1053.8,920 1063.9,914 1074,913 1084.2,920 1094.3,930 1104.4,945 1114.5,960 1124.6,975 1134.8,988 1144.9,1003 1155,1027 1165.1,1058 1175.2,1090 1185.3,1118 1195.5,1128 1205.6,1115 1215.7,1092 1225.8,1070 1225.8,1100 1215.7,1120 1205.6,1142 1195.5,1150 1185.3,1146 1175.2,1120 1165.1,1085 1155,1055 1144.9,1030 1134.8,1015 1124.6,1003 1114.5,990 1104.4,975 1094.3,962 1084.2,950 1074,946 1063.9,948 1053.8,955 1043.7,965 1033.6,975 1023.5,985 1013.3,1000 1003.2,1015 993.1,1030 983,1048 972.9,1072 962.8,1100 952.6,1127 942.5,1141 932.4,1142 922.3,1130 912.2,1105 902,1075 891.9,1030 881.8,995 871.7,962 861.6,935 851.5,918 841.3,913 831.2,912 821.1,915 811,918 800.9,920 790.7,922 780.6,921.3 770.5,920.7 760.4,920 750.3,919 740.2,918 730,902 719.9,901 709.8,900" fill="#FC8D62" fill-opacity="0.1" stroke="none"/>
</g>
<g clip-path="url(#cp22)">
<polyline points="1298.5,870.4 1308.6,862.8 1318.7,867.7 1328.9,883.6 1339,910.1 1349.1,922.5 1359.2,937.5 1369.3,939.3 1379.4,930.5 1389.6,910.1 1399.7,891.6 1409.8,896 1419.9,914.6 1430,927.8 1440.2,939.3 1450.3,953.4 1460.4,970.4 1470.5,988 1480.6,1006 1490.7,1023.7 1500.9,1039.6 1511,1050.2 1521.1,1057.3 1531.2,1061.7 1541.3,1067.5 1551.5,1067 1561.6,1064.4 1571.7,1053.8 1581.8,1041.4 1591.9,1027.3 1602,1018.4 1612.2,1007.8 1622.3,988.4 1632.4,976.8 1642.5,963.9 1652.6,958.4 1662.7,951.7 1672.9,964.1 1683,954.6 1693.1,980.4 1703.2,983.3 1713.3,1005.3 1723.5,1030.2 1733.6,1039.7 1743.7,1069.4 1753.8,1071.3 1763.9,1077.1 1774,1049.3 1784.2,1066.5 1794.3,1032.1 1804.4,1030.2 1814.5,998.6" fill="none" stroke="#A6D854" stroke-width="5.3" stroke-linejoin="round" stroke-linecap="butt"/>
<polyline points="1298.5,895 1308.6,895.3 1318.7,895.9 1328.9,907.5 1339,909.1 1349.1,910.5 1359.2,910.5 1369.3,910.1 1379.4,909.4 1389.6,907.1 1399.7,903.5 1409.8,899.4 1419.9,896.3 1430,897.3 1440.2,904 1450.3,920 1460.4,946 1470.5,979 1480.6,1017 1490.7,1051.5 1500.9,1077.5 1511,1094.3 1521.1,1103.5 1531.2,1103.5 1541.3,1095 1551.5,1080 1561.6,1062 1571.7,1043 1581.8,1023 1591.9,1003.3 1602,986.4 1612.2,971.9 1622.3,960.2 1632.4,950.9 1642.5,940 1652.6,932 1662.7,930.5 1672.9,935.5 1683,947 1693.1,961.4 1703.2,976.2 1713.3,988.7 1723.5,1000.6 1733.6,1014.5 1743.7,1037.5 1753.8,1068.2 1763.9,1102 1774,1132.1 1784.2,1140.5 1794.3,1128.7 1804.4,1106.8 1814.5,1085" fill="none" stroke="#FC8D62" stroke-width="5.3" stroke-linejoin="round" stroke-linecap="butt"/>
<line x1="1272.7" x2="1840.3" y1="1028.5" y2="1028.5" stroke="#000" stroke-width="1.6"/>
<polygon points="1298.5,838 1308.6,830 1318.7,839 1328.9,857 1339,898 1349.1,900 1359.2,902 1369.3,903 1379.4,899 1389.6,877 1399.7,864 1409.8,872 1419.9,894 1430,912 1440.2,925 1450.3,940 1460.4,953 1470.5,968 1480.6,985 1490.7,1000 1500.9,1015 1511,1025 1521.1,1030 1531.2,1035 1541.3,1041 1551.5,1040 1561.6,1036 1571.7,1025 1581.8,1012 1591.9,998 1602,988 1612.2,980 1622.3,968 1632.4,961 1642.5,940 1652.6,930 1662.7,922 1672.9,935 1683,930 1693.1,955 1703.2,958 1713.3,980 1723.5,1005 1733.6,1015 1743.7,1038 1753.8,1037 1763.9,1041 1774,1017 1784.2,1036 1794.3,1004 1804.4,1000 1814.5,967 1814.5,1044 1804.4,1081 1794.3,1082 1784.2,1110 1774,1095 1763.9,1118 1753.8,1110 1743.7,1105 1733.6,1070 1723.5,1057 1713.3,1030 1703.2,1009 1693.1,1005 1683,980 1672.9,986 1662.7,979 1652.6,988 1642.5,994 1632.4,1007 1622.3,1012 1612.2,1035 1602,1048 1591.9,1058 1581.8,1070 1571.7,1082 1561.6,1092 1551.5,1092 1541.3,1090 1531.2,1085 1521.1,1078 1511,1070 1500.9,1058 1490.7,1040 1480.6,1022 1470.5,1005 1460.4,992 1450.3,975 1440.2,960 1430,947 1419.9,937 1409.8,924 1399.7,915 1389.6,928 1379.4,951 1369.3,960 1359.2,958 1349.1,943 1339,928 1328.9,905 1318.7,895 1308.6,898 1298.5,905" fill="#A6D854" fill-opacity="0.1" stroke="none"/>
<polygon points="1298.5,890 1308.6,890.3 1318.7,890.9 1328.9,897.5 1339,899.1 1349.1,900.5 1359.2,900.5 1369.3,900.1 1379.4,899.4 1389.6,897.1 1399.7,893.5 1409.8,888.4 1419.9,884.3 1430,885.3 1440.2,892 1450.3,908 1460.4,934 1470.5,967.5 1480.6,1006 1490.7,1041 1500.9,1067.5 1511,1085.3 1521.1,1095.5 1531.2,1094.5 1541.3,1085 1551.5,1071 1561.6,1054 1571.7,1035 1581.8,1015 1591.9,995.3 1602,978.4 1612.2,962.2 1622.3,948.9 1632.4,937.9 1642.5,925.3 1652.6,915.7 1662.7,912.5 1672.9,919.5 1683,933 1693.1,949.4 1703.2,966.2 1713.3,979 1723.5,991.1 1733.6,1005.2 1743.7,1028.5 1753.8,1059.5 1763.9,1093.5 1774,1123.8 1784.2,1132.5 1794.3,1119.4 1804.4,1096.1 1814.5,1073 1814.5,1097 1804.4,1118.1 1794.3,1139.4 1784.2,1150.5 1774,1142.3 1763.9,1112.5 1753.8,1079 1743.7,1048.5 1733.6,1025.8 1723.5,1012.1 1713.3,1000.5 1703.2,988.2 1693.1,976.1 1683,964.5 1672.9,955.8 1662.7,953.5 1652.6,952.5 1642.5,958 1632.4,966.4 1622.3,973.2 1612.2,982.4 1602,994.4 1591.9,1013 1581.8,1034.5 1571.7,1056.2 1561.6,1077 1551.5,1102.5 1541.3,1125 1531.2,1137 1521.1,1140.5 1511,1132.8 1500.9,1117.5 1490.7,1085.2 1480.6,1044.5 1470.5,1000.2 1460.4,961 1450.3,935.7 1440.2,920.3 1430,914.3 1419.9,913.3 1409.8,913.4 1399.7,914.5 1389.6,918.1 1379.4,920.4 1369.3,921.1 1359.2,921.5 1349.1,921.5 1339,920.1 1328.9,918.5 1318.7,900.9 1308.6,900.3 1298.5,900" fill="#FC8D62" fill-opacity="0.1" stroke="none"/>
</g>
<rect x="95.4" y="61" width="567.6" height="355.3" fill="none" stroke="#333333" stroke-width="2.1"/>
<rect x="684" y="61" width="567.6" height="355.3" fill="none" stroke="#333333" stroke-width="2.1"/>
<rect x="1272.7" y="61" width="567.6" height="355.3" fill="none" stroke="#333333" stroke-width="2.1"/>
<rect x="95.4" y="437.5" width="567.6" height="355.4" fill="none" stroke="#333333" stroke-width="2.1"/>
<rect x="684" y="437.5" width="567.6" height="355.4" fill="none" stroke="#333333" stroke-width="2.1"/>
<rect x="1272.7" y="437.5" width="567.6" height="355.4" fill="none" stroke="#333333" stroke-width="2.1"/>
<rect x="95.4" y="814" width="567.6" height="355.7" fill="none" stroke="#333333" stroke-width="2.1"/>
<rect x="684" y="814" width="567.6" height="355.7" fill="none" stroke="#333333" stroke-width="2.1"/>
<rect x="1272.7" y="814" width="567.6" height="355.7" fill="none" stroke="#333333" stroke-width="2.1"/>
<rect x="95.4" y="0.95" width="567.6" height="58.1" fill="#D9D9D9" stroke="#333333" stroke-width="2.1"/>
<text x="379.2" y="41.2" font-size="31.0" fill="#1A1A1A" text-anchor="middle">Collinear</text>
<rect x="684" y="0.95" width="567.6" height="58.1" fill="#D9D9D9" stroke="#333333" stroke-width="2.1"/>
<text x="967.8" y="41.2" font-size="31.0" fill="#1A1A1A" text-anchor="middle">Overflexible−mobility</text>
<rect x="1272.7" y="0.95" width="567.6" height="58.1" fill="#D9D9D9" stroke="#333333" stroke-width="2.1"/>
<text x="1556.5" y="41.2" font-size="31.0" fill="#1A1A1A" text-anchor="middle">Overflexible−temperature</text>
<rect x="1842" y="61" width="58" height="355.3" fill="#D9D9D9" stroke="#333333" stroke-width="2.1"/>
<text x="0" y="0" font-size="31.0" fill="#1A1A1A" text-anchor="middle" transform="translate(1859,238.7) rotate(90)">Covariates</text>
<rect x="1842" y="437.5" width="58" height="355.4" fill="#D9D9D9" stroke="#333333" stroke-width="2.1"/>
<text x="0" y="0" font-size="31.0" fill="#1A1A1A" text-anchor="middle" transform="translate(1859,615.2) rotate(90)">Time−varying effect</text>
<rect x="1842" y="814" width="58" height="355.7" fill="#D9D9D9" stroke="#333333" stroke-width="2.1"/>
<text x="0" y="0" font-size="31.0" fill="#1A1A1A" text-anchor="middle" transform="translate(1859,991.9) rotate(90)">Fitted values</text>
<line x1="84.8" x2="95.4" y1="134" y2="134" stroke="#333333" stroke-width="3.7"/>
<text x="77" y="145" font-size="31.0" fill="#4D4D4D" text-anchor="end">1</text>
<line x1="84.8" x2="95.4" y1="222.6" y2="222.6" stroke="#333333" stroke-width="3.7"/>
<text x="77" y="233.6" font-size="31.0" fill="#4D4D4D" text-anchor="end">0</text>
<line x1="84.8" x2="95.4" y1="311.2" y2="311.2" stroke="#333333" stroke-width="3.7"/>
<text x="77" y="322.2" font-size="31.0" fill="#4D4D4D" text-anchor="end">−1</text>
<line x1="84.8" x2="95.4" y1="399.8" y2="399.8" stroke="#333333" stroke-width="3.7"/>
<text x="77" y="410.8" font-size="31.0" fill="#4D4D4D" text-anchor="end">−2</text>
<line x1="84.8" x2="95.4" y1="480" y2="480" stroke="#333333" stroke-width="3.7"/>
<text x="77" y="491" font-size="31.0" fill="#4D4D4D" text-anchor="end">1.5</text>
<line x1="84.8" x2="95.4" y1="561.2" y2="561.2" stroke="#333333" stroke-width="3.7"/>
<text x="77" y="572.2" font-size="31.0" fill="#4D4D4D" text-anchor="end">1.0</text>
<line x1="84.8" x2="95.4" y1="642.4" y2="642.4" stroke="#333333" stroke-width="3.7"/>
<text x="77" y="653.4" font-size="31.0" fill="#4D4D4D" text-anchor="end">0.5</text>
<line x1="84.8" x2="95.4" y1="723.6" y2="723.6" stroke="#333333" stroke-width="3.7"/>
<text x="77" y="734.6" font-size="31.0" fill="#4D4D4D" text-anchor="end">0.0</text>
<line x1="84.8" x2="95.4" y1="820.5" y2="820.5" stroke="#333333" stroke-width="3.7"/>
<text x="77" y="831.5" font-size="31.0" fill="#4D4D4D" text-anchor="end">0.50</text>
<line x1="84.8" x2="95.4" y1="924.5" y2="924.5" stroke="#333333" stroke-width="3.7"/>
<text x="77" y="935.5" font-size="31.0" fill="#4D4D4D" text-anchor="end">0.25</text>
<line x1="84.8" x2="95.4" y1="1028.5" y2="1028.5" stroke="#333333" stroke-width="3.7"/>
<text x="77" y="1039.5" font-size="31.0" fill="#4D4D4D" text-anchor="end">0.00</text>
<line x1="84.8" x2="95.4" y1="1132.5" y2="1132.5" stroke="#333333" stroke-width="3.7"/>
<text x="77" y="1143.5" font-size="31.0" fill="#4D4D4D" text-anchor="end">−0.25</text>
<line x1="166.9" x2="166.9" y1="1169.7" y2="1180.3" stroke="#333333" stroke-width="3.7"/>
<text x="172.2" y="1242.4" font-size="31.0" fill="#4D4D4D" text-anchor="middle" transform="rotate(-30 172.2 1242.4)">Apr 2020</text>
<line x1="298.7" x2="298.7" y1="1169.7" y2="1180.3" stroke="#333333" stroke-width="3.7"/>
<text x="304" y="1242.4" font-size="31.0" fill="#4D4D4D" text-anchor="middle" transform="rotate(-30 304 1242.4)">Jul 2020</text>
<line x1="431.7" x2="431.7" y1="1169.7" y2="1180.3" stroke="#333333" stroke-width="3.7"/>
<text x="437" y="1242.4" font-size="31.0" fill="#4D4D4D" text-anchor="middle" transform="rotate(-30 437 1242.4)">Oct 2020</text>
<line x1="565" x2="565" y1="1169.7" y2="1180.3" stroke="#333333" stroke-width="3.7"/>
<text x="570.3" y="1242.4" font-size="31.0" fill="#4D4D4D" text-anchor="middle" transform="rotate(-30 570.3 1242.4)">Jan 2021</text>
<line x1="755.5" x2="755.5" y1="1169.7" y2="1180.3" stroke="#333333" stroke-width="3.7"/>
<text x="760.8" y="1242.4" font-size="31.0" fill="#4D4D4D" text-anchor="middle" transform="rotate(-30 760.8 1242.4)">Apr 2020</text>
<line x1="887.3" x2="887.3" y1="1169.7" y2="1180.3" stroke="#333333" stroke-width="3.7"/>
<text x="892.6" y="1242.4" font-size="31.0" fill="#4D4D4D" text-anchor="middle" transform="rotate(-30 892.6 1242.4)">Jul 2020</text>
<line x1="1020.3" x2="1020.3" y1="1169.7" y2="1180.3" stroke="#333333" stroke-width="3.7"/>
<text x="1025.6" y="1242.4" font-size="31.0" fill="#4D4D4D" text-anchor="middle" transform="rotate(-30 1025.6 1242.4)">Oct 2020</text>
<line x1="1153.6" x2="1153.6" y1="1169.7" y2="1180.3" stroke="#333333" stroke-width="3.7"/>
<text x="1158.9" y="1242.4" font-size="31.0" fill="#4D4D4D" text-anchor="middle" transform="rotate(-30 1158.9 1242.4)">Jan 2021</text>
<line x1="1344.2" x2="1344.2" y1="1169.7" y2="1180.3" stroke="#333333" stroke-width="3.7"/>
<text x="1349.5" y="1242.4" font-size="31.0" fill="#4D4D4D" text-anchor="middle" transform="rotate(-30 1349.5 1242.4)">Apr 2020</text>
<line x1="1476" x2="1476" y1="1169.7" y2="1180.3" stroke="#333333" stroke-width="3.7"/>
<text x="1481.3" y="1242.4" font-size="31.0" fill="#4D4D4D" text-anchor="middle" transform="rotate(-30 1481.3 1242.4)">Jul 2020</text>
<line x1="1609" x2="1609" y1="1169.7" y2="1180.3" stroke="#333333" stroke-width="3.7"/>
<text x="1614.3" y="1242.4" font-size="31.0" fill="#4D4D4D" text-anchor="middle" transform="rotate(-30 1614.3 1242.4)">Oct 2020</text>
<line x1="1742.3" x2="1742.3" y1="1169.7" y2="1180.3" stroke="#333333" stroke-width="3.7"/>
<text x="1747.6" y="1242.4" font-size="31.0" fill="#4D4D4D" text-anchor="middle" transform="rotate(-30 1747.6 1242.4)">Jan 2021</text>
<line x1="477" x2="495" y1="1311.2" y2="1311.2" stroke="#66C2A5" stroke-width="5.3"/>
<rect x="475.6" y="1297.4" width="20.8" height="27.4" fill="#66C2A5" fill-opacity="0.1"/>
<text x="516" y="1322.6" font-size="31.0" fill="#000">Retail and recreation</text>
<line x1="477" x2="495" y1="1340.1" y2="1340.1" stroke="#8DA0CB" stroke-width="5.3"/>
<rect x="475.6" y="1326.3" width="20.8" height="27.4" fill="#8DA0CB" fill-opacity="0.1"/>
<text x="516" y="1351.4" font-size="31.0" fill="#000">Workplaces</text>
<line x1="823.6" x2="841.6" y1="1311.2" y2="1311.2" stroke="#E5C494" stroke-width="5.3"/>
<rect x="822.2" y="1297.4" width="20.8" height="27.4" fill="#E5C494" fill-opacity="0.1"/>
<text x="861" y="1322.6" font-size="31.0" fill="#000">Mobility measure</text>
<line x1="823.6" x2="841.6" y1="1340.1" y2="1340.1" stroke="#B3B3B3" stroke-width="5.3"/>
<rect x="822.2" y="1326.3" width="20.8" height="27.4" fill="#B3B3B3" fill-opacity="0.1"/>
<text x="861" y="1351.4" font-size="31.0" fill="#000">Temperature</text>
<line x1="1118.4" x2="1136.4" y1="1311.2" y2="1311.2" stroke="#FC8D62" stroke-width="5.3"/>
<rect x="1117" y="1297.4" width="20.8" height="27.4" fill="#FC8D62" fill-opacity="0.1"/>
<text x="1157.2" y="1322.6" font-size="31.0" fill="#000">Observed infection rate</text>
<line x1="1118.4" x2="1136.4" y1="1340.1" y2="1340.1" stroke="#A6D854" stroke-width="5.3"/>
<rect x="1117" y="1326.3" width="20.8" height="27.4" fill="#A6D854" fill-opacity="0.1"/>
<text x="1157.2" y="1351.4" font-size="31.0" fill="#000">Estimated infection rate</text>
</svg></body></html>
